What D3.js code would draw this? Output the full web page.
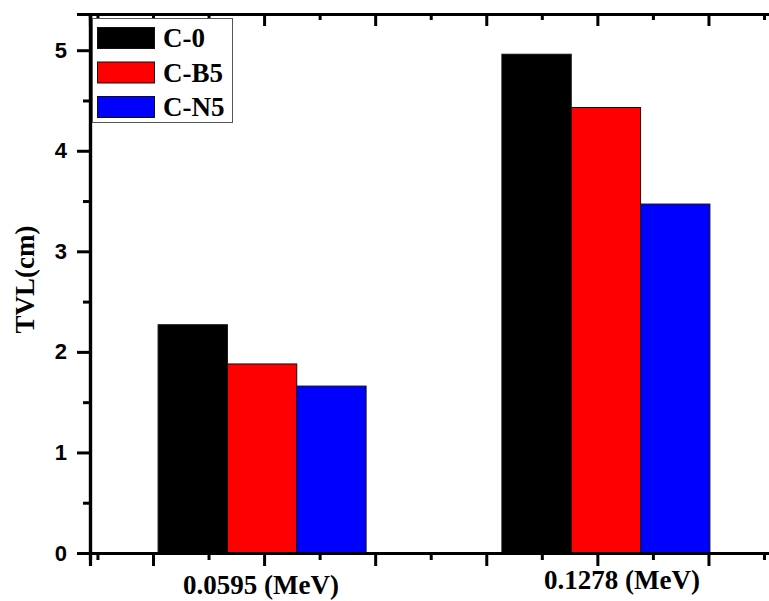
<!DOCTYPE html>
<html>
<head>
<meta charset="utf-8">
<script src="https://cdn.jsdelivr.net/npm/d3@7"></script>
<style>
  body { margin: 0; background: #fff; }
  svg { display: block; }
</style>
</head>
<body>
<div id="chart"></div>
<script>
// chart data
const categories = ['0.0595 (MeV)', '0.1278 (MeV)'];
const seriesNames = ['C-0', 'C-B5', 'C-N5'];
const seriesColors = ['#000000', '#ff0000', '#0000ff'];
const valuesC0 = [2.27, 4.96];
const valuesB5 = [1.88, 4.43];
const valuesN5 = [1.66, 3.47];
const yTickValues = [0, 1, 2, 3, 4, 5];
const yTitle = 'TVL(cm)';

const seriesValues = [valuesC0, valuesB5, valuesN5];

const width = 769;
const height = 601;
const plotLeft = 90;
const plotRight = 776;
const plotTop = 14;
const plotBottom = 553;

const serif = '"Liberation Serif", "Times New Roman", serif';
const sans = '"Liberation Sans", Arial, sans-serif';

const svg = d3.select('#chart').append('svg')
  .attr('width', width)
  .attr('height', height);

// scales
const y = d3.scaleLinear().domain([0, 5.36]).range([plotBottom, plotTop]);

const x0 = d3.scaleBand()
  .domain(categories)
  .range([plotLeft, 778])
  .paddingInner(0.395)
  .paddingOuter(0.198);

const x1 = d3.scaleBand()
  .domain(seriesNames)
  .range([0, x0.bandwidth()]);

// continuous scale only used for the x tick marks (origin style)
const xTick = d3.scaleLinear().domain([0.433, 6.608]).range([plotLeft, plotRight]);
const xMajor = d3.range(1, 7);
const xMinor = d3.range(0.5, 7, 1);
const yMinor = d3.range(0.5, 5.36, 1);

// bars
const groups = svg.append('g')
  .selectAll('g')
  .data(categories)
  .enter()
  .append('g')
  .attr('transform', d => `translate(${x0(d)},0)`);

groups.selectAll('rect')
  .data((d, i) => seriesNames.map((s, j) => ({ s, j, v: seriesValues[j][i] })))
  .enter()
  .append('rect')
  .attr('x', d => x1(d.s))
  .attr('y', d => y(d.v))
  .attr('width', x1.bandwidth())
  .attr('height', d => y(0) - y(d.v))
  .attr('fill', d => seriesColors[d.j])
  .attr('stroke', '#111')
  .attr('stroke-width', 1);

// axes
const leftAxis = svg.append('g')
  .attr('transform', `translate(${plotLeft},0)`)
  .call(d3.axisLeft(y).tickValues(yTickValues).tickSize(13).tickPadding(10).tickFormat(d3.format('d')));

leftAxis.append('g')
  .call(d3.axisLeft(y).tickValues(yMinor).tickSize(7).tickFormat(''));

const rightAxis = svg.append('g')
  .attr('transform', `translate(${plotRight},0)`)
  .call(d3.axisLeft(y).tickValues(yTickValues).tickSize(-12).tickFormat(''));

rightAxis.append('g')
  .call(d3.axisLeft(y).tickValues(yMinor).tickSize(-6).tickFormat(''));

const bottomAxis = svg.append('g')
  .attr('transform', `translate(0,${plotBottom})`)
  .call(d3.axisBottom(xTick).tickValues(xMajor).tickSize(13).tickFormat(''));

bottomAxis.append('g')
  .call(d3.axisBottom(xTick).tickValues(xMinor).tickSize(7).tickFormat(''));

const topAxis = svg.append('g')
  .attr('transform', `translate(0,${plotTop})`)
  .call(d3.axisTop(xTick).tickValues(xMajor).tickSize(-12).tickFormat(''));

topAxis.append('g')
  .call(d3.axisTop(xTick).tickValues(xMinor).tickSize(-6).tickFormat(''));

svg.selectAll('.domain')
  .attr('stroke', '#000')
  .attr('stroke-width', 3.2);

svg.selectAll('.tick line')
  .attr('stroke', '#000')
  .attr('stroke-width', 3);

leftAxis.selectAll('.tick text')
  .attr('font-family', sans)
  .attr('font-weight', 'bold')
  .attr('font-size', 22)
  .attr('fill', '#000');

// category labels (origin put the second one a bit off centre)
const labelNudge = [[0, 41], [17, 36]];
svg.append('g')
  .selectAll('text')
  .data(categories)
  .enter()
  .append('text')
  .attr('x', (d, i) => x0(d) + x0.bandwidth() / 2 + labelNudge[i][0] - 1)
  .attr('y', (d, i) => plotBottom + labelNudge[i][1])
  .attr('text-anchor', 'middle')
  .attr('font-family', serif)
  .attr('font-weight', 'bold')
  .attr('font-size', 27)
  .text(d => d);

// y title
svg.append('text')
  .attr('transform', `translate(34,${(plotTop + plotBottom) / 2 - 4}) rotate(-90)`)
  .attr('text-anchor', 'middle')
  .attr('font-family', serif)
  .attr('font-weight', 'bold')
  .attr('font-size', 27)
  .text(yTitle);

// legend
const legend = svg.append('g').attr('transform', 'translate(92,18)');

legend.append('rect')
  .attr('x', 0.5).attr('y', 0.5)
  .attr('width', 140).attr('height', 104)
  .attr('fill', '#fff')
  .attr('stroke', '#555')
  .attr('stroke-width', 1);

const items = legend.selectAll('.item')
  .data(seriesNames)
  .enter()
  .append('g')
  .attr('class', 'item')
  .attr('transform', (d, i) => `translate(0,${9 + i * 34.5})`);

items.append('rect')
  .attr('x', 5.5).attr('y', 0.5)
  .attr('width', 57).attr('height', 21)
  .attr('fill', (d, i) => seriesColors[i])
  .attr('stroke', '#111')
  .attr('stroke-width', 1);

items.append('text')
  .attr('x', 71)
  .attr('y', 20)
  .attr('font-family', serif)
  .attr('font-weight', 'bold')
  .attr('font-size', 27)
  .text(d => d);
</script>
</body>
</html>
